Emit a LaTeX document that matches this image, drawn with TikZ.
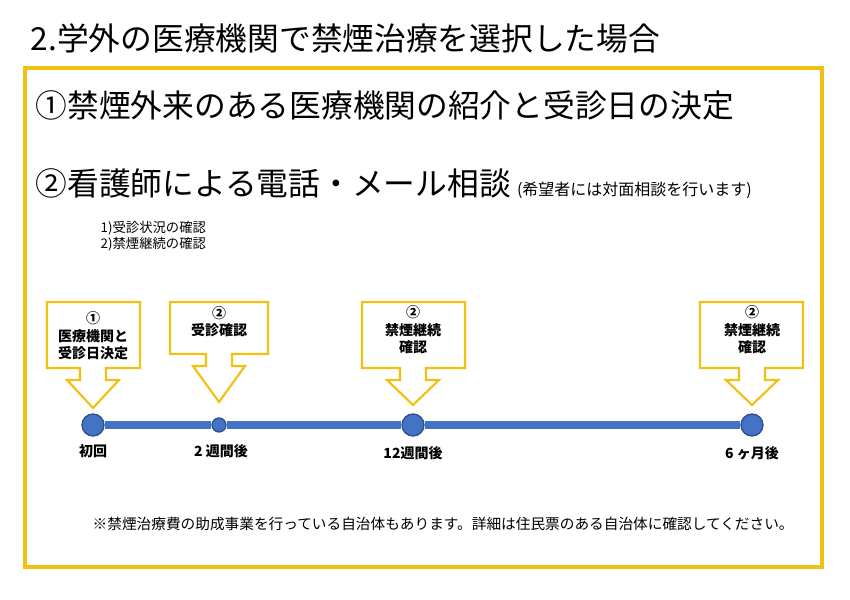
\documentclass[tikz,border=0pt]{standalone}
\usepackage{fontspec}
\setmainfont{Noto Sans CJK JP}
\usetikzlibrary{positioning}

\definecolor{frameyellow}{HTML}{F2C010}
\definecolor{lineblue}{HTML}{4472C4}
\definecolor{dotedge}{HTML}{2F4F8F}

\tikzset{
  callout/.style={draw=frameyellow, line width=1.6pt, fill=white, line join=miter},
  dot/.style={circle, fill=lineblue, draw=dotedge, line width=1pt, inner sep=0pt},
  steplabel/.style={font=\fontsize{10.5pt}{13pt}\selectfont\bfseries, align=center},
  ticklabel/.style={font=\fontsize{10.5pt}{13pt}\selectfont\bfseries}
}

% callout box with down arrow: left, right, top, bottom, tip, centre
\newcommand{\calloutbox}[6]{%
  \draw[callout] (#1,#3) -- (#2,#3) -- (#2,#4) -- (#6+13,#4) -- (#6+13,#4+12)
    -- (#6+26,#4+12) -- (#6,#5) -- (#6-26,#4+12) -- (#6-13,#4+12)
    -- (#6-13,#4) -- (#1,#4) -- cycle;}

\begin{document}
\begin{tikzpicture}[x=0.75pt,y=-0.75pt]
  \useasboundingbox[fill=white] (0,0) rectangle (850,600);

  \node[anchor=west, font=\fontsize{23.8pt}{27pt}\selectfont] (title) at (26,38)
    {2.学外の医療機関で禁煙治療を選択した場合};
  \draw[frameyellow, line width=2.4pt] (25,68) rectangle (822,567);

  \node[anchor=west, font=\fontsize{23.8pt}{27pt}\selectfont] (first) at (31,105)
    {①禁煙外来のある医療機関の紹介と受診日の決定};
  \node[anchor=west, font=\fontsize{23.8pt}{27pt}\selectfont] (second) at (31,183)
    {②看護師による電話・メール相談};
  \node[anchor=base west, font=\fontsize{12pt}{14pt}\selectfont, inner sep=0pt]
    (note) at ([xshift=1pt]second.base east) {(希望者には対面相談を行います)};
  \node[anchor=west, font=\fontsize{10pt}{12pt}\selectfont, align=left] (checks) at (96,236)
    {1)受診状況の確認\\2)禁煙継続の確認};

  % callouts
  \calloutbox{47}{140}{302}{368}{408}{93}
  \calloutbox{170}{268}{302}{354}{402}{219}
  \calloutbox{362}{465}{302}{368}{405}{413}
  \calloutbox{700}{803}{302}{368}{405}{752}
  \node[steplabel] (c1) at (93,336) {①\\医療機関と\\受診日決定};
  \node[steplabel] (c2) at (219,322) {②\\受診確認};
  \node[steplabel] (c3) at (413,330) {②\\禁煙継続\\確認};
  \node[steplabel] (c4) at (752,330) {②\\禁煙継続\\確認};

  % timeline
  \node[dot, minimum size=16.5pt] (t1) at (93,425) {};
  \node[dot, minimum size=10.5pt] (t2) at (219,425) {};
  \node[dot, minimum size=16.5pt] (t3) at (413,425) {};
  \node[dot, minimum size=16.5pt] (t4) at (752,425) {};
  \draw[lineblue, line width=6pt] (t1) -- (t2) -- (t3) -- (t4);

  \node[ticklabel] (l1) at (93,451) {初回};
  \node[ticklabel] (l2) at (221,451) {2 週間後};
  \node[ticklabel] (l3) at (413,453) {12週間後};
  \node[ticklabel] (l4) at (752,453) {6 ヶ月後};

  \node[anchor=west, font=\fontsize{11pt}{13pt}\selectfont] (foot) at (88,524)
    {※禁煙治療費の助成事業を行っている自治体もあります。詳細は住民票のある自治体に確認してください。};
\end{tikzpicture}
\end{document}
